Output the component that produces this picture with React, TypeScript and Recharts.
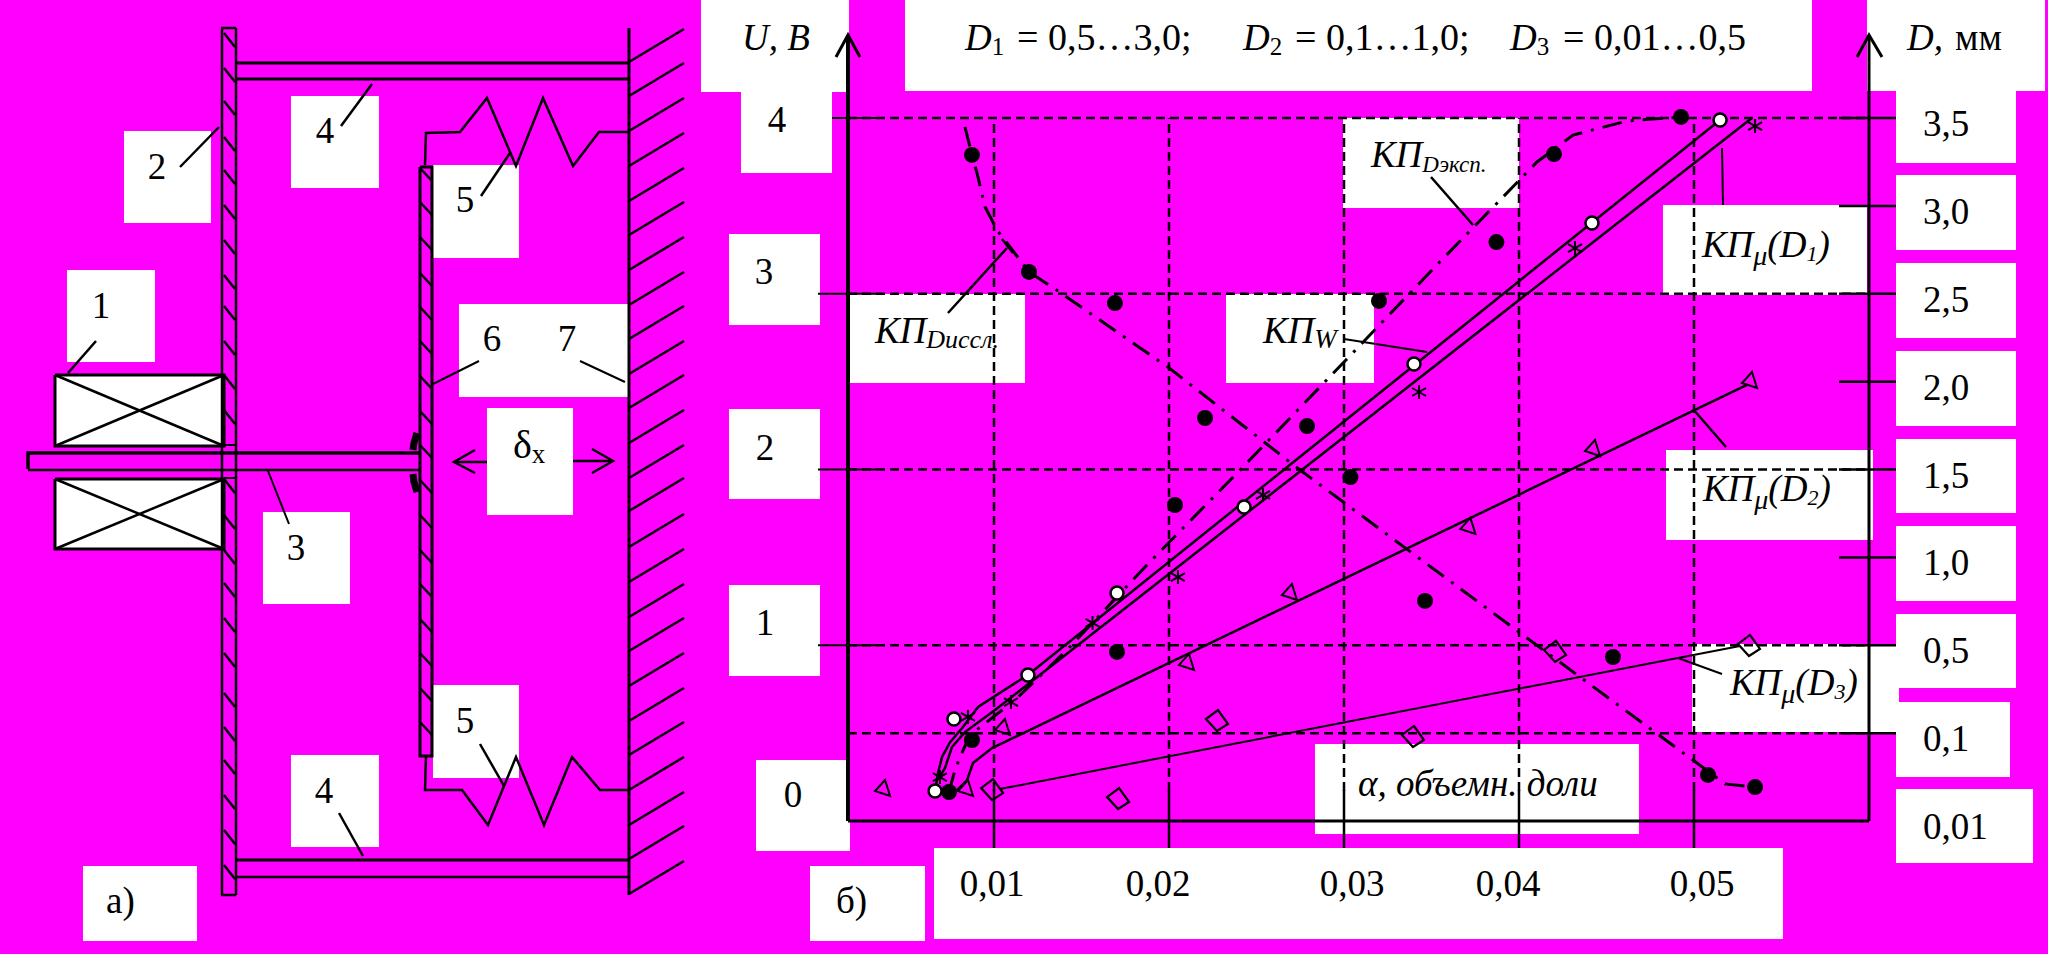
import React from "react";
import {
  ComposedChart, Line, Scatter, XAxis, YAxis, ReferenceArea, ReferenceLine,
} from "recharts";

const W = 2048, H = 954;
const BG = "#ff00ff";
const FONT = "'Liberation Serif', serif";

/* ---------- chart values (alpha, U) ---------- */
const alphaTicks = [0.01, 0.02, 0.03, 0.04, 0.05];
const uTicks = [0, 1, 2, 3, 4];
const dTickU = [4, 3.5, 3, 2.5, 2, 1.5, 1, 0.5, 0];
const dTickLabels = ["3,5", "3,0", "2,5", "2,0", "1,5", "1,0", "0,5", "0,1", "0,01"];
const gridU = [0.5, 1, 2, 3, 4];

const dots = [[.00874,3.79],[.012,3.124],[.01691,2.947],[.032,2.959],[.03871,3.294],[.042,3.795],[.04926,4.006],[.02206,2.293],[.02789,2.247],[.02034,1.798],[.03037,1.957],[.03463,1.252],[.01703,.962],[.04537,.933],[.00874,.461],[.00743,.165],[.0508,.262],[.05349,.193]];
const circles = [[.05149,3.989],[.04417,3.403],[.034,2.6],[.02429,1.787],[.01703,1.297],[.01194,.831],[.00771,.58],[.00663,.171]];
const triangles = [[.00366,.188],[.0084,.188],[.01051,.535],[.02103,.905],[.02691,1.303],[.03711,1.679],[.04423,2.122],[.0532,2.509]];
const diamonds = [[.00989,.176],[.01709,.125],[.02274,.569],[.03394,.478],[.04206,.962],[.05314,.996]];
const stars = [[.05349,3.954],[.0432,3.26],[.03429,2.441],[.02537,1.855],[.02051,1.388],[.01563,1.127],[.01097,.677],[.00851,.592],[.00691,.25]];

const lineD1Upper = [[.00663,.171],[.0068,.273],[.00703,.364],[.00749,.449],[.00823,.535],[.00909,.649],[.01194,.831],[.05149,3.989]];
const lineD1Lower = [[.0068,.233],[.0072,.302],[.0076,.421],[.00834,.506],[.01006,.632],[.05331,4.0]];
const lineD2 = [[.00789,.176],[.00846,.233],[.0088,.33],[.00989,.415],[.05303,2.481]];
const lineD3 = [[.01034,.182],[.05263,.996]];
const curveDiss = [[.00834,3.949],[.00874,3.79],[.00903,3.687],[.00949,3.494],[.01017,3.363],[.01074,3.289],[.012,3.124],[.01349,3.027],[.02,2.578],[.02749,1.997],[.04006,1.07],[.05017,.33],[.05177,.211],[.05349,.193]];
const curveExp = [[.00743,.165],[.00777,.29],[.00806,.364],[.00863,.489],[.0112,.688],[.01417,.973],[.01874,1.457],[.02406,1.997],[.03011,2.623],[.03503,3.135],[.04103,3.75],[.04309,3.903],[.04617,3.983],[.04926,4.006]];

const toAU = (list: number[][]) => list.map(([a, u]) => ({ a, u }));

/* ---------- schematic a) and annotations, canvas units ---------- */
const wallHatchTips = [29,63,98,133,168,202,237,272,306,341,375,410,445,478,514,549,584,618,653,688,722,757,792,826,861];
const leftHatch = [33,68,101,137,170,205,240,275,306,341,375,410,479,515,550,583,618,653,693,727,760,795,830,865];
const plateHatch = [168,202,237,273,307,341,376,411,445,480,515,550,584,619,653,688,722];

type Seg = { p: number[][]; w: number };
const outline: Seg[] = [
  { p: [[222,28],[222,895]], w: 2.5 },
  { p: [[236,28],[236,895]], w: 2.5 },
  { p: [[221,28],[236,28]], w: 2.5 },
  { p: [[221,895],[236,895]], w: 2.5 },
  { p: [[236,63],[629,63]], w: 3 },
  { p: [[236,79],[629,79]], w: 3 },
  { p: [[236,860],[629,860]], w: 3 },
  { p: [[236,877],[629,877]], w: 2.5 },
  { p: [[629,28],[629,895]], w: 3 },
  { p: [[420,167],[432,167],[432,756],[420,756],[420,167]], w: 3 },
  { p: [[55,375],[224,375],[224,446],[55,446],[55,375]], w: 3 },
  { p: [[55,375],[224,446]], w: 2.5 },
  { p: [[55,446],[224,375]], w: 2.5 },
  { p: [[55,479],[224,479],[224,549],[55,549],[55,479]], w: 3 },
  { p: [[55,479],[224,549]], w: 2.5 },
  { p: [[55,549],[224,479]], w: 2.5 },
  { p: [[224,445],[236,445]], w: 2 },
  { p: [[224,478],[236,478]], w: 2 },
  { p: [[28,469],[28,453],[419,453]], w: 3.5 },
  { p: [[28,470],[419,470]], w: 2.5 },
  { p: [[417,433],[414,443],[413,450]], w: 7 },
  { p: [[413,474],[414,482],[417,492]], w: 7 },
  { p: [[425,165],[426,133],[460,132],[487,98],[516,166],[543,98],[573,166],[599,132],[629,132]], w: 2.5 },
  { p: [[426,757],[425,790],[462,790],[488,825],[516,757],[544,825],[572,757],[600,790],[629,790]], w: 2.5 },
  { p: [[487,462],[454,462]], w: 2.5 },
  { p: [[475,450],[454,462],[475,473]], w: 2.5 },
  { p: [[573,461],[613,461]], w: 2.5 },
  { p: [[592,449],[613,461],[592,473]], w: 2.5 },
  { p: [[836,57],[848,35],[860,57]], w: 3 },
  { p: [[1857,57],[1869,35],[1882,57]], w: 3 },
];
const leaders: Seg[] = [
  { p: [[96,341],[68,373]], w: 2.5 },
  { p: [[180,167],[219,127]], w: 2.5 },
  { p: [[341,126],[372,84]], w: 2.5 },
  { p: [[481,196],[510,153]], w: 2.5 },
  { p: [[479,361],[433,384]], w: 2 },
  { p: [[580,361],[625,382]], w: 2 },
  { p: [[268,471],[289,524]], w: 2 },
  { p: [[480,744],[504,786]], w: 2.5 },
  { p: [[339,813],[363,856]], w: 2.5 },
  { p: [[948,313],[1007,248]], w: 2.5 },
  { p: [[1002,239],[1013,253]], w: 2.5 },
  { p: [[1431,177],[1473,225]], w: 2.5 },
  { p: [[1344,339],[1427,352]], w: 2 },
  { p: [[1722,148],[1723,205]], w: 2 },
  { p: [[1693,409],[1726,447]], w: 2.5 },
  { p: [[1678,658],[1722,674]], w: 2 },
];
const hatches: Seg[] = [
  ...wallHatchTips.map((y) => ({ p: [[629, y + 33], [684, y]], w: 2.5 })),
  ...leftHatch.map((y) => ({ p: [[224, y], [235, y + 14]], w: 2.5 })),
  ...plateHatch.map((y) => ({ p: [[420, y], [432, y + 13]], w: 2.5 })),
];
const segments = [...outline, ...hatches, ...leaders];

// white label plates: x1, x2, y1, y2
const plates = [
  [67,155,270,362],[124,211,131,223],[291,379,96,188],[433,519,165,258],[459,629,304,397],
  [263,350,512,604],[433,519,685,778],[291,379,755,847],[83,197,866,941],[487,573,408,515],
  [55,224,375,446],[55,224,479,549],
  [701,849,0,92],[905,1812,0,91],[1867,2045,0,91],
  [741,832,92,173],[729,820,234,325],[729,820,409,499],[729,820,585,676],[756,850,760,851],
  [810,925,866,941],[934,1783,848,939],[1315,1639,744,834],
  [849,1025,294,383],[1343,1519,118,208],[1226,1374,294,383],
  [1663,1867,205,295],[1666,1873,450,540],[1692,1899,644,732],
  [1896,2016,91,163],[1896,2016,175,250],[1896,2016,263,338],[1896,2016,351,426],[1896,2016,439,513],
  [1896,2016,526,601],[1896,2016,614,688],[1896,2010,702,777],[1896,2033,789,863],
];

type Run = { t: string; i?: boolean; s?: number; b?: number; x?: number };
const S = 37;
const run = (t: string, o: Partial<Run> = {}): Run => ({ t, ...o });
const kp = (x: number, y: number, sub: string, s: number) => ({
  x, y, runs: [run("КП", { i: true }), run(sub, { i: true, s, b: 5 })],
});
const kpMu = (x: number, y: number, n: string) => ({
  x, y, runs: [run("КП", { i: true }), run("μ", { i: true, s: 28, b: 8 }), run("(D", { i: true }), run(n, { i: true, s: 22, b: 4 }), run(")", { i: true })],
});
const texts: { x: number; y: number; a?: string; runs: Run[] }[] = [
  { x: 101, y: 318, a: "middle", runs: [run("1")] },
  { x: 157, y: 179, a: "middle", runs: [run("2")] },
  { x: 325, y: 143, a: "middle", runs: [run("4")] },
  { x: 465, y: 212, a: "middle", runs: [run("5")] },
  { x: 492, y: 351, a: "middle", runs: [run("6")] },
  { x: 567, y: 351, a: "middle", runs: [run("7")] },
  { x: 296, y: 560, a: "middle", runs: [run("3")] },
  { x: 465, y: 733, a: "middle", runs: [run("5")] },
  { x: 324, y: 803, a: "middle", runs: [run("4")] },
  { x: 106, y: 913, runs: [run("а)")] },
  { x: 836, y: 913, runs: [run("б)")] },
  { x: 513, y: 458, runs: [run("δ", { s: 40 }), run("x", { s: 27, b: 5 })] },
  { x: 742, y: 50, runs: [run("U, В", { i: true })] },
  { x: 1907, y: 50, runs: [run("D,", { i: true }), run("мм", { x: 1955 })] },
  { x: 965, y: 50, runs: [run("D", { i: true }), run("1", { s: 25, b: 5 }), run("= 0,5…3,0;", { x: 1017, s: 38 })] },
  { x: 1243, y: 50, runs: [run("D", { i: true }), run("2", { s: 25, b: 5 }), run("= 0,1…1,0;", { x: 1295, s: 38 })] },
  { x: 1510, y: 50, runs: [run("D", { i: true }), run("3", { s: 25, b: 5 }), run("= 0,01…0,5", { x: 1563, s: 38 })] },
  { x: 1358, y: 796, runs: [run("α, объемн. доли", { i: true, s: 37 })] },
  kp(875, 343, "Dиссл.", 26),
  kp(1371, 167, "Dэксп.", 23),
  { x: 1263, y: 343, runs: [run("КП", { i: true }), run("W", { i: true, s: 27, b: 5 })] },
  kpMu(1702, 257, "1"),
  kpMu(1703, 501, "2"),
  kpMu(1730, 695, "3"),
];

/* ---------- custom ticks ---------- */
const alphaLabelCenter = [992, 1158, 1352, 1508, 1702];
const uLabelCenter = [793, 765, 765, 764, 777];
const uLabelShift = [-14, -10, -10, -10, 14];
const txt = { fontFamily: FONT, fontSize: S, fill: "#000" };

const AlphaTick = ({ x, y, payload }: any) => {
  const i = alphaTicks.indexOf(payload.value);
  return (
    <g>
      <line x1={x} x2={x} y1={y - 31} y2={y + 27} stroke="#000" strokeWidth={2.5} />
      <text x={alphaLabelCenter[i]} y={y + 75} textAnchor="middle" {...txt}>{String(payload.value).replace(".", ",")}</text>
    </g>
  );
};
const UTick = ({ x, y, payload }: any) => {
  const i = uTicks.indexOf(payload.value);
  return (
    <g>
      {payload.value > 0 && (
        <line x1={payload.value === 4 ? x - 16 : x - 30} x2={x + 29} y1={y} y2={y} stroke="#000" strokeWidth={2} />
      )}
      <text x={uLabelCenter[i]} y={y + uLabelShift[i]} textAnchor="middle" {...txt}>{payload.value}</text>
    </g>
  );
};
const DTick = ({ x, y, payload }: any) => {
  const i = dTickU.indexOf(payload.value);
  return (
    <g>
      {payload.value > 0 && <line x1={x - 30} x2={x + 27} y1={y} y2={y} stroke="#000" strokeWidth={2.5} />}
      <text x={x + 54} y={y + 18} {...txt}>{dTickLabels[i]}</text>
    </g>
  );
};

/* ---------- marker shapes ---------- */
const DotShape = ({ cx, cy }: any) => <circle cx={cx} cy={cy} r={8} fill="#000" />;
const CircleShape = ({ cx, cy }: any) => <circle cx={cx} cy={cy} r={6.5} fill="#fff" stroke="#000" strokeWidth={2.5} />;
const TriShape = ({ cx, cy }: any) => (
  <path d={`M${cx + 2} ${cy - 8}L${cx + 7} ${cy + 8}L${cx - 8} ${cy + 3}Z`} fill="none" stroke="#000" strokeWidth={2} />
);
const DiamondShape = ({ cx, cy }: any) => (
  <path d={`M${cx + 1} ${cy - 11}L${cx + 11} ${cy + 3}L${cx} ${cy + 10}L${cx - 11} ${cy - 2}Z`} fill="none" stroke="#000" strokeWidth={2.2} />
);
const StarShape = ({ cx, cy }: any) => (
  <path
    d={`M${cx} ${cy - 7}V${cy + 7}M${cx - 7} ${cy - 4}L${cx + 7} ${cy + 4}M${cx - 7} ${cy + 4}L${cx + 7} ${cy - 4}`}
    fill="none" stroke="#000" strokeWidth={2}
  />
);
const TextShape = ({ cx, cy, payload }: any) => {
  let cur = 0;
  return (
    <text x={cx} y={cy} textAnchor={payload.a || "start"} fontFamily={FONT} fontSize={S} fill="#000">
      {payload.runs.map((r: Run, k: number) => {
        const b = r.b || 0;
        const dy = b - cur;
        cur = b;
        return (
          <tspan key={k} x={r.x} dy={dy} fontSize={r.s || S} fontStyle={r.i ? "italic" : "normal"}>{r.t}</tspan>
        );
      })}
    </text>
  );
};

const layer: React.CSSProperties = { position: "absolute", left: 0, top: 0 };

export default function App() {
  return (
    <div style={{ position: "absolute", left: 0, top: 0, width: W, height: H, background: BG, overflow: "hidden" }}>
      {/* schematic, plates, captions */}
      <div style={layer}>
        <ComposedChart width={W} height={H} margin={{ top: 0, right: 0, bottom: 0, left: 0 }}>
          <XAxis dataKey="x" type="number" domain={[0, W]} hide />
          <YAxis dataKey="y" type="number" domain={[0, H]} reversed hide />
          {plates.map(([x1, x2, y1, y2], i) => (
            <ReferenceArea key={i} x1={x1} x2={x2} y1={y1} y2={y2} fill="#fff" fillOpacity={1} stroke="none" ifOverflow="visible" />
          ))}
          {segments.map((s, i) => (
            <Line
              key={i}
              data={s.p.map(([x, y]) => ({ x, y }))}
              dataKey="y"
              stroke="#000"
              strokeWidth={s.w}
              dot={false}
              activeDot={false}
              legendType="none"
              isAnimationActive={false}
            />
          ))}
          <Scatter data={texts} shape={TextShape} isAnimationActive={false} />
        </ComposedChart>
      </div>

      {/* measured chart */}
      <div style={layer}>
        <ComposedChart width={W} height={H} margin={{ top: 35, right: 0, bottom: 0, left: 0 }}>
          <XAxis
            dataKey="a" type="number" domain={[0.001657, 0.06]} ticks={alphaTicks} interval={0}
            height={133} tickLine={false} tickSize={0} tickMargin={0} tick={AlphaTick}
            axisLine={{ stroke: "#000", strokeWidth: 3 }}
          />
          <YAxis
            yAxisId="u" dataKey="u" type="number" domain={[0, 4.4723]} ticks={uTicks} interval={0}
            width={848} tickLine={false} tickSize={0} tickMargin={0} tick={UTick}
            axisLine={{ stroke: "#000", strokeWidth: 4 }}
          />
          <YAxis
            yAxisId="d" dataKey="u" orientation="right" type="number" domain={[0, 4.4723]} ticks={dTickU} interval={0}
            width={179} tickLine={false} tickSize={0} tickMargin={0} tick={DTick}
            axisLine={{ stroke: "#000", strokeWidth: 3 }}
          />
          {gridU.map((u) => (
            <ReferenceLine key={u} yAxisId="u" y={u} stroke="#000" strokeWidth={2.5} strokeDasharray="9 5" />
          ))}
          {alphaTicks.map((a) => (
            <ReferenceLine
              key={a} yAxisId="u"
              segment={[{ x: a, y: 0.17 }, { x: a, y: 4 }]}
              stroke="#000" strokeWidth={2.5} strokeDasharray="9 5"
            />
          ))}
          {/* keeps the D axis bound to a series so that its ticks are laid out */}
          <Line yAxisId="d" data={toAU(lineD3)} dataKey="u" stroke="none" dot={false} activeDot={false} isAnimationActive={false} />
          <Line yAxisId="u" data={toAU(curveDiss)} dataKey="u" stroke="#000" strokeWidth={3} strokeDasharray="20 9 3 9" dot={false} activeDot={false} isAnimationActive={false} />
          <Line yAxisId="u" data={toAU(curveExp)} dataKey="u" stroke="#000" strokeWidth={3} strokeDasharray="20 9 3 9" dot={false} activeDot={false} isAnimationActive={false} />
          <Line yAxisId="u" data={toAU(lineD1Upper)} dataKey="u" stroke="#000" strokeWidth={2.5} dot={false} activeDot={false} isAnimationActive={false} />
          <Line yAxisId="u" data={toAU(lineD1Lower)} dataKey="u" stroke="#000" strokeWidth={2.5} dot={false} activeDot={false} isAnimationActive={false} />
          <Line yAxisId="u" data={toAU(lineD2)} dataKey="u" stroke="#000" strokeWidth={2.5} dot={false} activeDot={false} isAnimationActive={false} />
          <Line yAxisId="u" data={toAU(lineD3)} dataKey="u" stroke="#000" strokeWidth={2} dot={false} activeDot={false} isAnimationActive={false} />
          <Scatter yAxisId="u" data={toAU(triangles)} shape={TriShape} isAnimationActive={false} />
          <Scatter yAxisId="u" data={toAU(diamonds)} shape={DiamondShape} isAnimationActive={false} />
          <Scatter yAxisId="u" data={toAU(stars)} shape={StarShape} isAnimationActive={false} />
          <Scatter yAxisId="u" data={toAU(dots)} shape={DotShape} isAnimationActive={false} />
          <Scatter yAxisId="u" data={toAU(circles)} shape={CircleShape} isAnimationActive={false} />
        </ComposedChart>
      </div>
    </div>
  );
}
